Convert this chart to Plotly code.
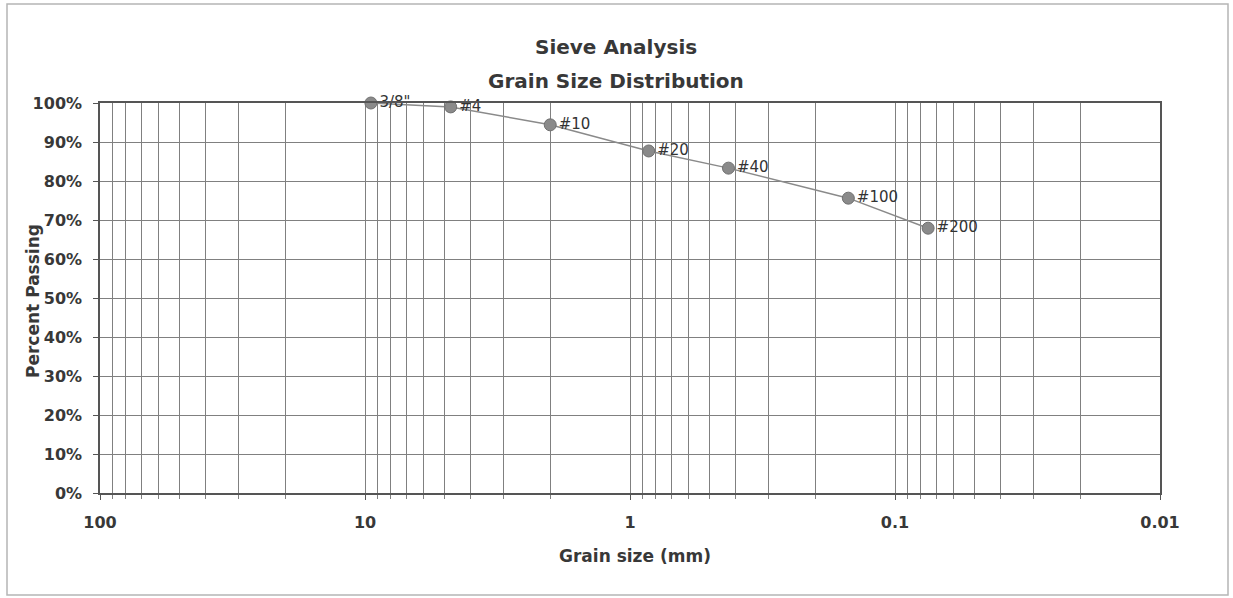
import plotly.graph_objects as go

# Data
sieve_labels = ['3/8"', "#4", "#10", "#20", "#40", "#100", "#200"]
grain_size_mm = [9.5, 4.75, 2.0, 0.85, 0.425, 0.15, 0.075]
percent_passing = [100, 99, 94.4, 87.7, 83.3, 75.6, 67.9]

decade_ticks = [100, 10, 1, 0.1, 0.01]
decade_labels = ["100", "10", "1", "0.1", "0.01"]
y_ticks = [0, 10, 20, 30, 40, 50, 60, 70, 80, 90, 100]

# minor gridline values (2..9 within each decade)
minor_vals = [m * d for d in [10, 1, 0.1, 0.01] for m in range(2, 10)]

FONT = "DejaVu Sans, sans-serif"
TXT = "#383838"
GRID = "#808080"

W, H = 1233, 598
L, R, T, B = 100, 1160, 103, 493  # plot area in page pixels


def px(x):
    return (x - L) / (R - L)


def py(y):
    return (B - y) / (B - T)


fig = go.Figure()
fig.add_trace(go.Scatter(
    x=grain_size_mm, y=percent_passing, text=sieve_labels,
    mode="lines+markers+text", textposition="middle right",
    textfont=dict(family=FONT, size=15, color="#333333"),
    line=dict(color="#8a8a8a", width=1.5),
    marker=dict(color="#8a8a8a", size=12, line=dict(color="#707070", width=1)),
    showlegend=False, cliponaxis=False,
))

fig.update_layout(
    width=W, height=H,
    paper_bgcolor="white", plot_bgcolor="white",
    margin=dict(l=L, r=W - R, t=T, b=H - B, autoexpand=False),
    font=dict(family=FONT, color=TXT),
)

fig.update_xaxes(
    type="log", range=[2, -2], autorange=False,
    tickvals=decade_ticks, ticktext=["<b>%s</b>" % t for t in decade_labels],
    tickfont=dict(family=FONT, size=16, color=TXT),
    showgrid=True, gridcolor=GRID, gridwidth=1,
    minor=dict(tickvals=minor_vals, showgrid=True, gridcolor=GRID, gridwidth=1,
               ticks="outside", ticklen=4, tickcolor=GRID),
    ticks="outside", ticklen=5, tickcolor="#555555", ticklabelstandoff=9,
    showline=True, linecolor="#555555", linewidth=1.5, mirror=True,
    zeroline=False,
)
fig.update_yaxes(
    range=[0, 100], autorange=False,
    tickvals=y_ticks, ticktext=["<b>%d%%</b>" % v for v in y_ticks],
    tickfont=dict(family=FONT, size=16, color=TXT),
    showgrid=True, gridcolor=GRID, gridwidth=1,
    ticks="outside", ticklen=5, tickcolor="#555555", ticklabelstandoff=8,
    showline=True, linecolor="#555555", linewidth=1.5, mirror=True,
    zeroline=False,
)

# Titles as annotations (placed in page pixels)
fig.add_annotation(text="<b>Sieve Analysis</b>", xref="paper", yref="paper",
                   x=px(616), y=py(47), xanchor="center", yanchor="middle",
                   showarrow=False, font=dict(family=FONT, size=20, color=TXT))
fig.add_annotation(text="<b>Grain Size Distribution</b>", xref="paper", yref="paper",
                   x=px(616), y=py(81), xanchor="center", yanchor="middle",
                   showarrow=False, font=dict(family=FONT, size=20, color=TXT))
fig.add_annotation(text="<b>Grain size (mm)</b>", xref="paper", yref="paper",
                   x=px(635), y=py(556), xanchor="center", yanchor="middle",
                   showarrow=False, font=dict(family=FONT, size=17, color=TXT))
fig.add_annotation(text="<b>Percent Passing</b>", xref="paper", yref="paper",
                   x=px(33), y=py(301), xanchor="center", yanchor="middle",
                   textangle=-90, showarrow=False,
                   font=dict(family=FONT, size=17, color=TXT))

# outer chart-area border
fig.add_shape(type="rect", xref="paper", yref="paper",
              x0=px(7), x1=px(1228), y0=py(595), y1=py(4),
              line=dict(color="#b5b5b5", width=1.5), layer="below")

fig.write_html("out.html", config={"displayModeBar": False},
               post_script="document.body.style.margin='0';")
